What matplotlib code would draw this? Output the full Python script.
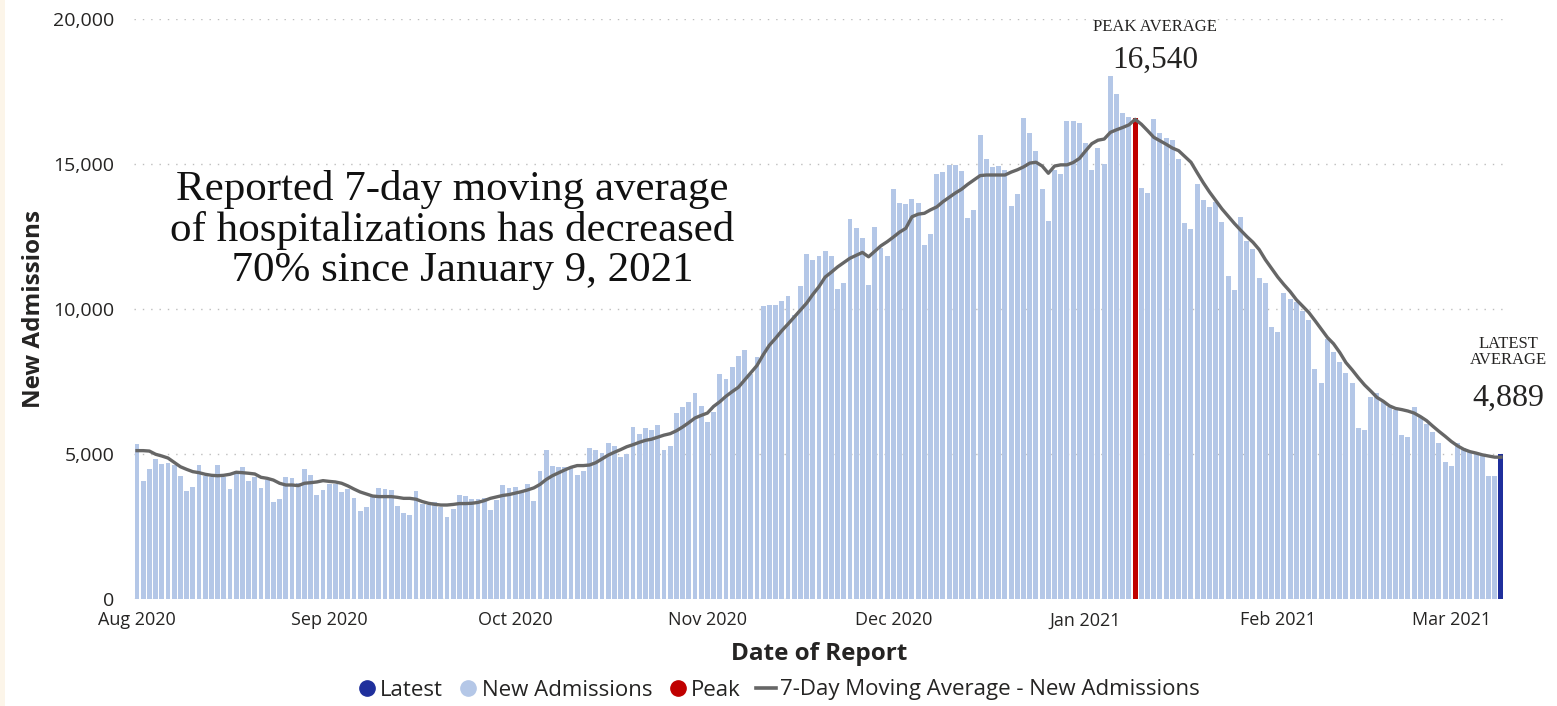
import matplotlib
matplotlib.use("Agg")
import matplotlib.pyplot as plt
import matplotlib.dates as mdates
from matplotlib.lines import Line2D
from matplotlib.patches import Rectangle
import numpy as np
import pandas as pd

# ---------------- data ----------------
start_date = "2020-08-01"
new_admissions = [
    5345, 4080, 4483, 4839, 4655, 4678, 4620, 4230, 3724, 3862,
    4609, 4253, 4218, 4609, 4218, 3793, 4402, 4563, 4080, 4207,
    3828, 4103, 3345, 3460, 4195, 4161, 3989, 4471, 4276, 3586,
    3759, 3954, 3954, 3690, 3805, 3483, 3034, 3161, 3506, 3839,
    3793, 3770, 3218, 2966, 2885, 3736, 3276, 3241, 3333, 3184,
    2839, 3115, 3586, 3552, 3448, 3460, 3471, 3069, 3402, 3931,
    3816, 3874, 3736, 3977, 3379, 4414, 5138, 4586, 4552, 4552,
    4560, 4276, 4425, 5195, 5126, 5046, 5391, 5276, 4908, 5000,
    5943, 5690, 5885, 5828, 6011, 5138, 5276, 6425, 6621, 6805,
    7092, 6655, 6092, 6450, 7747, 7598, 7989, 8391, 8575, 7750,
    8333, 10103, 10138, 10138, 10287, 10448, 9793, 10800, 11897, 11690,
    11839, 12011, 11828, 10701, 10885, 13092, 12793, 12460, 10839, 12816,
    12115, 11828, 14138, 13667, 13609, 13782, 13667, 12195, 12586, 14667,
    14736, 14966, 14966, 14759, 13126, 13414, 16000, 15184, 14897, 14920,
    14805, 13540, 13954, 16598, 16080, 15437, 14126, 13046, 14793, 14655,
    16483, 16483, 16402, 15713, 14793, 15563, 15011, 18034, 17402, 16747,
    16632, 16600, 14184, 14011, 16563, 16080, 15897, 15828, 15161, 12954,
    12770, 14310, 13747, 13529, 13700, 12989, 11149, 10655, 13184, 12345,
    12057, 11080, 10885, 9391, 9218, 10540, 10333, 10253, 9931, 9621,
    7920, 7460, 8955, 8517, 8184, 7805, 7437, 5908, 5828, 6954,
    7092, 6805, 6632, 6517, 5655, 5598, 6609, 6310, 6023, 5770,
    5368, 4736, 4586, 5368, 5218, 5103, 5023, 4931, 4241, 4241,
    5000,
]
moving_average = [
    5115, 5115, 5100, 4990, 4930, 4860, 4710, 4560, 4470, 4390,
    4355, 4300, 4265, 4250, 4265, 4300, 4370, 4355, 4335, 4310,
    4195, 4160, 4100, 3990, 3930, 3930, 3910, 3990, 4010, 4035,
    4080, 4055, 4035, 3990, 3900, 3790, 3690, 3620, 3550, 3530,
    3530, 3530, 3505, 3470, 3470, 3440, 3360, 3300, 3265, 3240,
    3240, 3260, 3290, 3290, 3300, 3330, 3390, 3470, 3520, 3570,
    3600, 3650, 3700, 3760, 3830, 3950, 4120, 4250, 4350, 4450,
    4540, 4600, 4600, 4620, 4700, 4830, 4960, 5060, 5150, 5250,
    5320, 5400, 5470, 5510, 5580, 5650, 5700, 5800, 5930, 6080,
    6240, 6330, 6410, 6640, 6800, 6990, 7150, 7300, 7550, 7800,
    8050, 8420, 8750, 8990, 9250, 9480, 9720, 9960, 10200, 10500,
    10770, 11100, 11270, 11450, 11600, 11750, 11850, 11950, 11800, 11990,
    12180, 12320, 12480, 12650, 12780, 13180, 13270, 13300, 13420, 13520,
    13700, 13850, 14000, 14130, 14300, 14450, 14600, 14620, 14620, 14620,
    14620, 14720, 14800, 14900, 15030, 15060, 14930, 14680, 14930, 14970,
    14970, 15050, 15190, 15450, 15700, 15820, 15860, 16090, 16180, 16260,
    16350, 16540, 16370, 16150, 15920, 15800, 15680, 15550, 15460, 15260,
    15060, 14700, 14350, 14030, 13740, 13450, 13200, 12950, 12720, 12500,
    12300, 12050, 11700, 11400, 11100, 10840, 10600, 10320, 10100, 9880,
    9600, 9310, 9020, 8800, 8500, 8150, 7900, 7630, 7380, 7170,
    6950, 6820, 6660, 6570, 6530, 6480, 6410, 6290, 6150, 5960,
    5780, 5610, 5430, 5280, 5160, 5080, 5030, 4970, 4930, 4890,
    4889,
]
peak_date = "2021-01-09"
peak_average = 16540
latest_average = 4889
y_ticks = [0, 5000, 10000, 15000, 20000]
legend_labels = ["Latest", "New Admissions", "Peak",
                 "7-Day Moving Average - New Admissions"]
headline = ("Reported 7-day moving average\n"
            "of hospitalizations has decreased\n"
            "  70% since January 9, 2021")

# ---------------- styling ----------------
C_BAR = "#b4c7e7"
C_PEAK = "#c00000"
C_LATEST = "#1f2f9c"
C_LINE = "#666666"
C_TEXT = "#252423"
SANS = ["Open Sans", "DejaVu Sans"]
SERIF = ["Liberation Serif", "DejaVu Serif"]

dates = pd.date_range(start_date, periods=len(new_admissions), freq="D")
vals = np.array(new_admissions, dtype=float)
peak_ts = pd.Timestamp(peak_date)
latest_ts = dates[-1]

colors = []
for d in dates:
    if d == peak_ts:
        colors.append(C_PEAK)
    elif d == latest_ts:
        colors.append(C_LATEST)
    else:
        colors.append(C_BAR)

fig = plt.figure(figsize=(15.57, 7.06), dpi=100)
fig.patch.set_facecolor("white")
fig.patches.append(Rectangle((0, 0), 5 / 1557, 1, transform=fig.transFigure,
                             facecolor="#fcf5e9", edgecolor="none", zorder=0))

ax = fig.add_axes([0.0860, 0.1516, 0.8800, 0.8215])
ax.bar(dates, vals, width=0.8, color=colors, zorder=2, linewidth=0)
ax.plot(dates, moving_average, color=C_LINE, lw=2.4, zorder=3,
        solid_joinstyle="round")

ax.set_xlim(dates[0] - pd.Timedelta(hours=12), dates[-1] + pd.Timedelta(hours=12))
ax.set_ylim(0, 20000)
ax.set_yticks(y_ticks)
ax.yaxis.set_major_formatter(matplotlib.ticker.FuncFormatter(lambda v, p: f"{int(v):,}"))
ax.yaxis.grid(True, linestyle=(0, (1, 5)), color="#bdbdbd", lw=1.0, zorder=0)
ax.set_axisbelow(True)
for s in ax.spines.values():
    s.set_visible(False)
ax.tick_params(axis="both", length=0, colors=C_TEXT)
ax.tick_params(axis="y", pad=14, labelsize=14)
ax.tick_params(axis="x", pad=9, labelsize=13)
ax.xaxis.set_major_locator(mdates.MonthLocator())
ax.xaxis.set_major_formatter(mdates.DateFormatter("%b %Y"))
for lab in ax.get_xticklabels() + ax.get_yticklabels():
    lab.set_fontfamily(SANS)
    lab.set_color(C_TEXT)

ax.set_ylabel("New Admissions", fontsize=17.5, fontweight="bold", family=SANS,
              color=C_TEXT, labelpad=5)
ax.set_xlabel("Date of Report", fontsize=17.5, fontweight="bold", family=SANS,
              color=C_TEXT, labelpad=9)

# headline text
fig.text(452 / 1557, 1 - 230 / 706, headline, ha="center", va="center",
         fontsize=31, family=SERIF, color="#111111", linespacing=1.07)

# peak annotation
fig.text(1155 / 1557, 1 - 27 / 706, "PEAK AVERAGE", ha="center", va="center",
         fontsize=12, family=SERIF, color=C_TEXT)
fig.text(1155 / 1557, 1 - 60 / 706, f"{peak_average:,}", ha="center", va="center",
         fontsize=22.5, family=SERIF, color=C_TEXT)
# latest annotation
fig.text(1508 / 1557, 1 - 352 / 706, "LATEST\nAVERAGE", ha="center", va="center",
         fontsize=12, family=SERIF, color=C_TEXT, linespacing=1.0)
fig.text(1508 / 1557, 1 - 398 / 706, f"{latest_average:,}", ha="center", va="center",
         fontsize=23, family=SERIF, color=C_TEXT)

handles = [
    Line2D([], [], marker="o", ls="none", color=C_LATEST, markersize=11),
    Line2D([], [], marker="o", ls="none", color=C_BAR, markersize=11),
    Line2D([], [], marker="o", ls="none", color=C_PEAK, markersize=11),
    Line2D([], [], color=C_LINE, lw=2.6),
]
leg = fig.legend(handles, legend_labels, loc="center", ncol=4,
                 bbox_to_anchor=(778 / 1557, 1 - 690 / 706), frameon=False,
                 prop={"family": SANS, "size": 16}, handletextpad=0.15,
                 columnspacing=0.7, handlelength=0.9)
for t in leg.get_texts():
    t.set_color(C_TEXT)

fig.savefig("out.png", dpi=100, facecolor=fig.get_facecolor())
